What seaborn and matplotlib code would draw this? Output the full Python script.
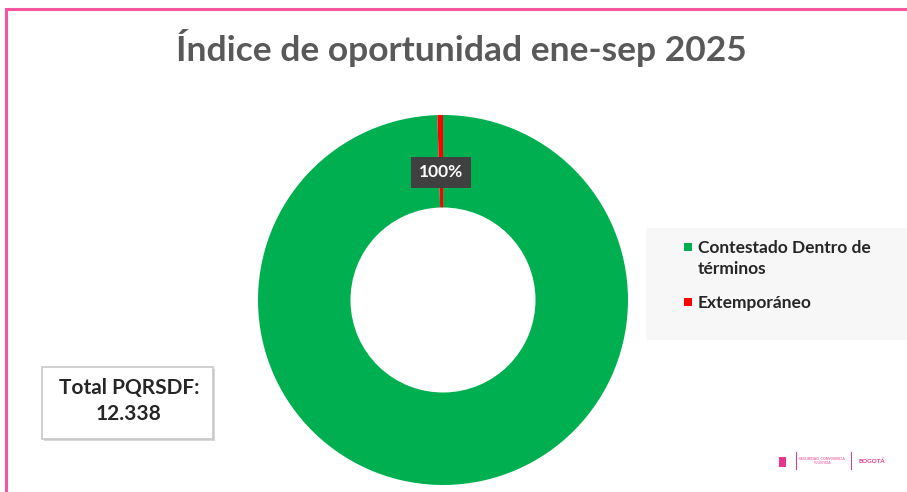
import matplotlib
matplotlib.use('Agg')
import matplotlib.pyplot as plt
from matplotlib.patches import Rectangle
import seaborn as sns

# Data
categories = ['Contestado Dentro de\ntérminos', 'Extemporáneo']
values = [12278, 60]
colors = ['#00b050', '#ff0000']
total_label = 'Total PQRSDF:\n12.338'
title = 'Índice de oportunidad ene-sep 2025'

sns.set_theme(style='white')
plt.rcParams['font.family'] = ['Lato', 'DejaVu Sans']

W, H = 907, 492
fig = plt.figure(figsize=(W / 100, H / 100), dpi=100)
fig.patch.set_facecolor('white')

def fx(x):
    return x / W

def fy(y):
    return 1 - y / H

# pink frame
fig.add_artist(Rectangle((fx(6), -0.05), 1.1, fy(9) + 0.05, transform=fig.transFigure,
                         fill=False, edgecolor='#f5559f', linewidth=2.2))

# legend background
fig.add_artist(Rectangle((fx(646), fy(340)), 1 - fx(646), (340 - 228) / H,
                         transform=fig.transFigure, facecolor='#f7f7f7', edgecolor='none'))

# donut
ax = fig.add_axes([fx(258), fy(485), 370 / W, 370 / H])
wedges, _ = ax.pie(values, colors=colors, startangle=90, counterclock=False,
                   radius=1, wedgeprops=dict(width=0.5, edgecolor='none'))
ax.set_xlim(-1, 1)
ax.set_ylim(-1, 1)
ax.set_aspect('equal')
ax.axis('off')

# data label
pct = round(100 * values[0] / sum(values))
ax.text(-0.01, 0.69, f'{pct}%', ha='center', va='center', color='white',
        fontsize=12.5, fontweight='bold',
        bbox=dict(boxstyle='square,pad=0.45', facecolor='#404040', edgecolor='none'))

# title
fig.text(fx(461), fy(48), title, ha='center', va='center', fontsize=25.5,
         fontweight='bold', color='#595959')

# legend
leg_y = [247, 302]
for lab, col, y in zip(categories, colors, leg_y):
    fig.add_artist(Rectangle((fx(684), fy(y) - 4 / H), 8 / W, 8 / H,
                             transform=fig.transFigure, facecolor=col, edgecolor='none'))
    fig.text(fx(698), fy(y - 7), lab, ha='left', va='top', fontsize=12.5,
             fontweight='bold', color='#262626', linespacing=1.42)

# total box
fig.add_artist(Rectangle((fx(44), fy(441)), 171 / W, 72 / H, transform=fig.transFigure,
                         facecolor='#d9d9d9', edgecolor='none'))
fig.add_artist(Rectangle((fx(42), fy(439)), 171 / W, 72 / H, transform=fig.transFigure,
                         facecolor='white', edgecolor='#c8c8c8', linewidth=1.2))
fig.text(fx(129), fy(401), total_label, ha='center', va='center', fontsize=15,
         fontweight='bold', color='#262626', linespacing=1.38)

# logos (approx.)
fig.text(fx(872), fy(461), 'BOGOTÁ', ha='center', va='center', fontsize=4.5,
         fontweight='bold', color='#e6358a')
fig.text(fx(822), fy(461), 'SEGURIDAD, CONVIVENCIA\nY JUSTICIA', ha='center', va='center',
         fontsize=2.5, color='#e6358a', linespacing=1.2)
fig.add_artist(Rectangle((fx(851), fy(470)), 1 / W, 18 / H, transform=fig.transFigure,
                         facecolor='#e6358a', edgecolor='none'))
fig.add_artist(Rectangle((fx(796), fy(470)), 1 / W, 18 / H, transform=fig.transFigure,
                         facecolor='#e6358a', edgecolor='none'))
fig.add_artist(Rectangle((fx(779), fy(467)), 7 / W, 10 / H, transform=fig.transFigure,
                         facecolor='#e6358a', edgecolor='none'))

fig.savefig('out.png', dpi=100)
